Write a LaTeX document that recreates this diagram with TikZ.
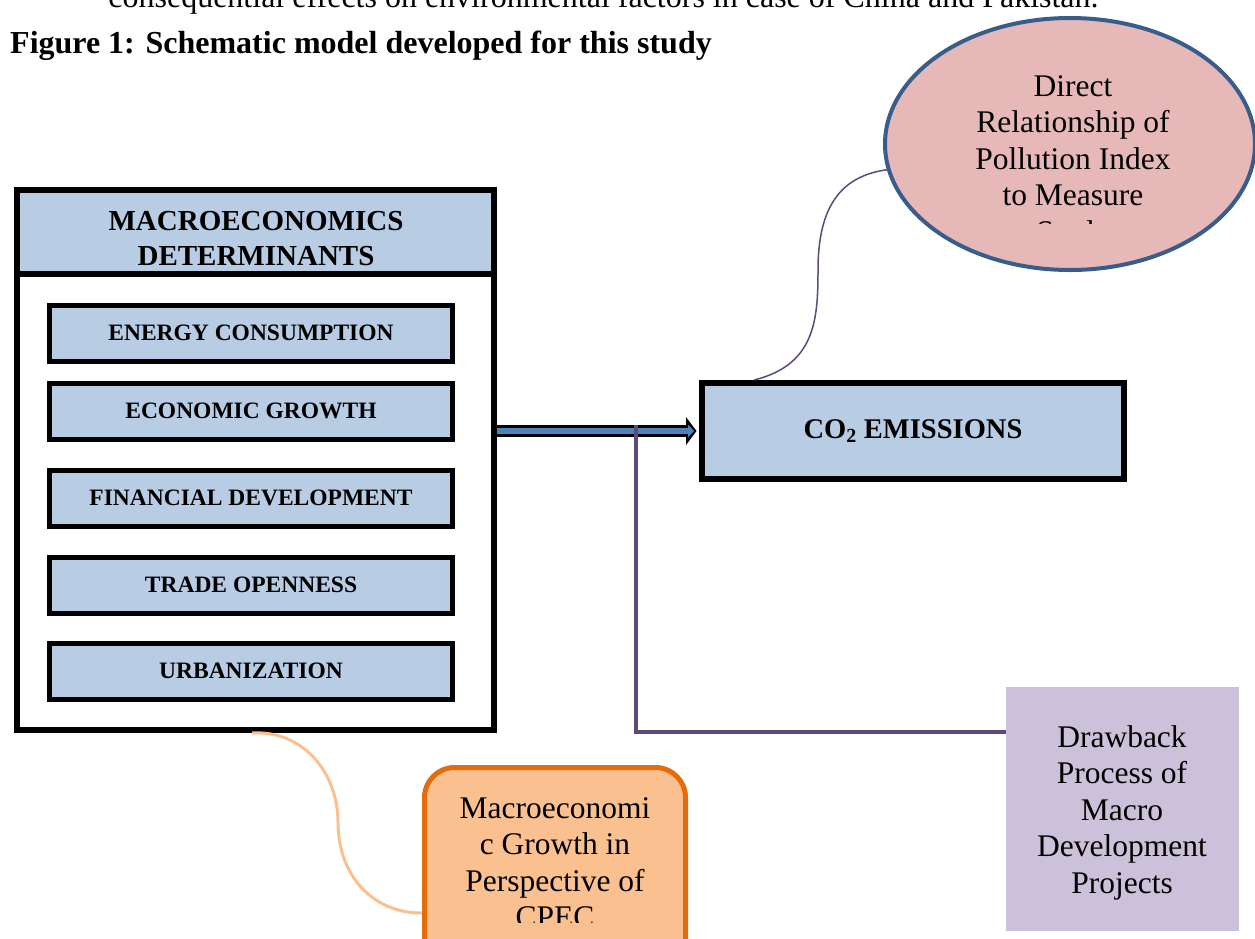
\documentclass[tikz,border=0pt]{standalone}
\usepackage{fontspec}
\setmainfont{Liberation Serif}
\usetikzlibrary{shapes.geometric,calc}
\definecolor{boxblue}{HTML}{B8CCE4}
\definecolor{ellfill}{HTML}{E6B8B7}
\definecolor{elldraw}{HTML}{385D8A}
\definecolor{orfill}{HTML}{FAC090}
\definecolor{ordraw}{HTML}{E46C0A}
\definecolor{purfill}{HTML}{CCC1DA}
\definecolor{purline}{HTML}{5F497A}
\definecolor{arrblue}{HTML}{4F81BD}
\begin{document}
\begin{tikzpicture}[x=1pt,y=-1pt,
  detbox/.style={draw=black, line width=5, fill=boxblue, minimum width=403, minimum height=56, inner sep=0, font=\fontsize{23.5}{28}\selectfont\bfseries},
  body/.style={font=\fontsize{31.5}{36.5}\selectfont, align=center, inner sep=0},
  ]
\useasboundingbox (0,0) rectangle (1255,938);
\clip (0,0) rectangle (1255,938);
\fill[white] (0,0) rectangle (1255,938);

% text above
\node[anchor=base, inner sep=0, font=\fontsize{32}{36}\selectfont] (prev) at (603.5,7) {consequential effects on environmental factors in case of China and Pakistan.};
\node[anchor=base west, inner sep=0, font=\fontsize{32}{36}\selectfont\bfseries] (title) at (10,53) {Figure 1: Schematic model developed for this study};

% macro box
\fill[boxblue] (17,190) rectangle (494,274);
\node[draw, line width=6, minimum width=477, minimum height=540, inner sep=0] (macro) at (255.5,460) {};
\draw[line width=6] (macro.west |- 0,274) -- (macro.east |- 0,274);
\node[inner sep=0, align=center, font=\fontsize{29}{35}\selectfont\bfseries] (head) at (256,238.5) {MACROECONOMICS\\DETERMINANTS};

\node[detbox] (energy) at (251,333) {ENERGY CONSUMPTION};
\node[detbox] (growth) at (251,411) {ECONOMIC GROWTH};
\node[detbox] (fin) at (251,498) {FINANCIAL DEVELOPMENT};
\node[detbox] (trade) at (251,585) {TRADE OPENNESS};
\node[detbox] (urban) at (251,671) {URBANIZATION};

% CO2
\node[draw, line width=6, fill=boxblue, minimum width=422, minimum height=96, inner sep=0, font=\fontsize{28.5}{32}\selectfont\bfseries] (co2) at (913,431) {CO\textsubscript{2} EMISSIONS};

% ellipse
\node[ellipse, draw=elldraw, line width=4, fill=ellfill, minimum width=370, minimum height=252, inner sep=0] (ell) at (1070,144) {};
\begin{scope}
\clip (880,60) rectangle (1255,223);
\node[body] (elltext) at (1073,162) {Direct\\Relationship of\\Pollution Index\\to Measure\\Study};
\end{scope}

% orange callout
\node[rounded corners=30, draw=ordraw, line width=5, fill=orfill, minimum width=261, minimum height=230, inner sep=0] (cpecbox) at (555,882.5) {};
\begin{scope}
\clip (424,760) rectangle (690,922);
\node[body] (cpectext) at (555,862.7) {Macroeconomi\\c Growth in\\Perspective of\\CPEC};
\end{scope}

% purple box
\node[fill=purfill, minimum width=233, minimum height=244, inner sep=0] (drawback) at (1122.5,809) {};
\node[body] (dbtext) at (1122,812.8) {Drawback\\Process of\\Macro\\Development\\Projects};

% arrow
\draw[line width=12.5] (macro.east |- co2.west) -- ($(co2.west)+(-10,0)$);
\fill ($(co2.west)+(-13,-14)$) -- ($(co2.west)+(-2.5,0)$) -- ($(co2.west)+(-13,14)$) -- cycle;
\draw[arrblue, line width=6] (macro.east |- co2.west) -- ($(co2.west)+(-10,0)$);
\fill[arrblue] ($(co2.west)+(-11,-6.5)$) -- ($(co2.west)+(-5,0)$) -- ($(co2.west)+(-11,6.5)$) -- cycle;

% purple connector
\coordinate (j) at (636,425);
\draw[purline, line width=4.5] (j) -- (j |- 0,732) -- (drawback.west |- 0,732);

% ellipse connector
\draw[purline, line width=1.5] ($(co2.north west)+(55,0)$) .. controls (815,365) and (818,320) .. (818,270) .. controls (818,205) and (842,176) .. (ell.188);

% orange connector
\draw[orfill, line width=3] ($(macro.south west)+(238,0)$) .. controls (305,730) and (338,775) .. (338,822) .. controls (338,875) and (372,913) .. (cpecbox.west |- 0,913);
\end{tikzpicture}
\end{document}
